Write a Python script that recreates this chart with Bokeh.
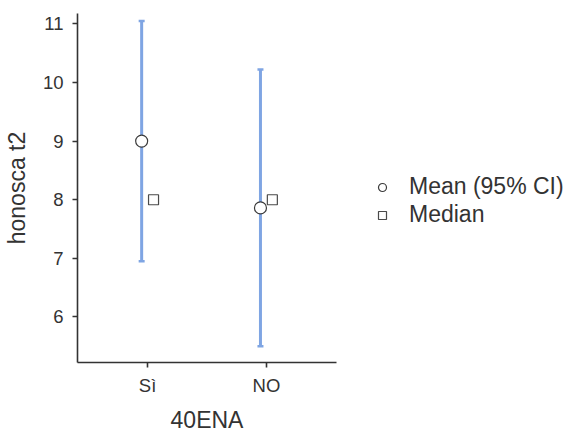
from bokeh.plotting import figure
from bokeh.models import (ColumnDataSource, Range1d, FactorRange, FixedTicker,
                          Whisker, TeeHead, Legend, LegendItem)
from bokeh.transform import dodge
from bokeh.embed import file_html
from bokeh.resources import INLINE

# ---- data ----
categories = ["Sì", "NO"]
mean_values = [9.0, 7.86]
ci_lower = [6.95, 5.50]
ci_upper = [11.05, 10.22]
median_values = [8.0, 8.0]
y_ticks = [6, 7, 8, 9, 10, 11]

FONT = "Liberation Sans"
TXT = "#333333"
BLUE = "#7fa5e3"

src = ColumnDataSource(dict(cat=categories, mean=mean_values, lo=ci_lower,
                            hi=ci_upper, med=median_values))

p = figure(frame_width=259, frame_height=349, output_backend="svg",
           toolbar_location=None,
           x_range=FactorRange(factors=categories, range_padding=0.09,
                               range_padding_units="absolute"),
           y_range=Range1d(5.224, 11.176),
           min_border_left=72, min_border_top=13, min_border_right=215,
           min_border_bottom=60)
p.outline_line_color = None
p.xgrid.visible = False
p.ygrid.visible = False
p.background_fill_color = "white"
p.border_fill_color = "white"

# CI whiskers
wh = Whisker(source=src, base=dodge("cat", -0.05, range=p.x_range),
             lower="lo", upper="hi", dimension="height",
             line_color=BLUE, line_width=3,
             upper_head=TeeHead(size=6, line_color=BLUE, line_width=2.5),
             lower_head=TeeHead(size=6, line_color=BLUE, line_width=2.5))
p.add_layout(wh)

r_mean = p.scatter(dodge("cat", -0.05, range=p.x_range), "mean", source=src,
                   marker="circle", size=12, fill_color="white",
                   line_color="#3a3a3a", line_width=1.2)
r_med = p.scatter(dodge("cat", 0.05, range=p.x_range), "med", source=src,
                  marker="square", size=10, fill_color="white",
                  line_color="#4a4a4a", line_width=1.2)

# axes
p.yaxis.ticker = FixedTicker(ticks=y_ticks)
for ax in (p.xaxis[0], p.yaxis[0]):
    ax.axis_line_color = TXT
    ax.axis_line_width = 1.6
    ax.major_tick_line_color = TXT
    ax.major_tick_line_width = 1.6
    ax.major_tick_out = 5
    ax.major_tick_in = 0
    ax.minor_tick_line_color = None
    ax.major_label_text_font = FONT
    ax.major_label_text_font_size = "18.5px"
    ax.major_label_text_color = TXT
    ax.axis_label_text_font = FONT
    ax.axis_label_text_font_size = "23px"
    ax.axis_label_text_font_style = "normal"
    ax.axis_label_text_color = TXT

p.yaxis.axis_label = "honosca t2"
p.xaxis.axis_label = "40ENA"
p.yaxis.major_label_standoff = 9
p.yaxis.axis_label_standoff = 10
p.xaxis.major_label_standoff = 7
p.xaxis.axis_label_standoff = 8

legend = Legend(items=[LegendItem(label="Mean (95% CI)", renderers=[r_mean]),
                       LegendItem(label="Median", renderers=[r_med])],
                location=(36, 134), orientation="vertical",
                glyph_width=20, glyph_height=20, label_height=20,
                label_standoff=17, spacing=1, padding=0, margin=0,
                border_line_color=None, background_fill_alpha=0,
                label_text_font=FONT, label_text_font_size="23px",
                label_text_color=TXT)
p.add_layout(legend, "right")

open("out.html", "w").write(file_html(p, INLINE))
